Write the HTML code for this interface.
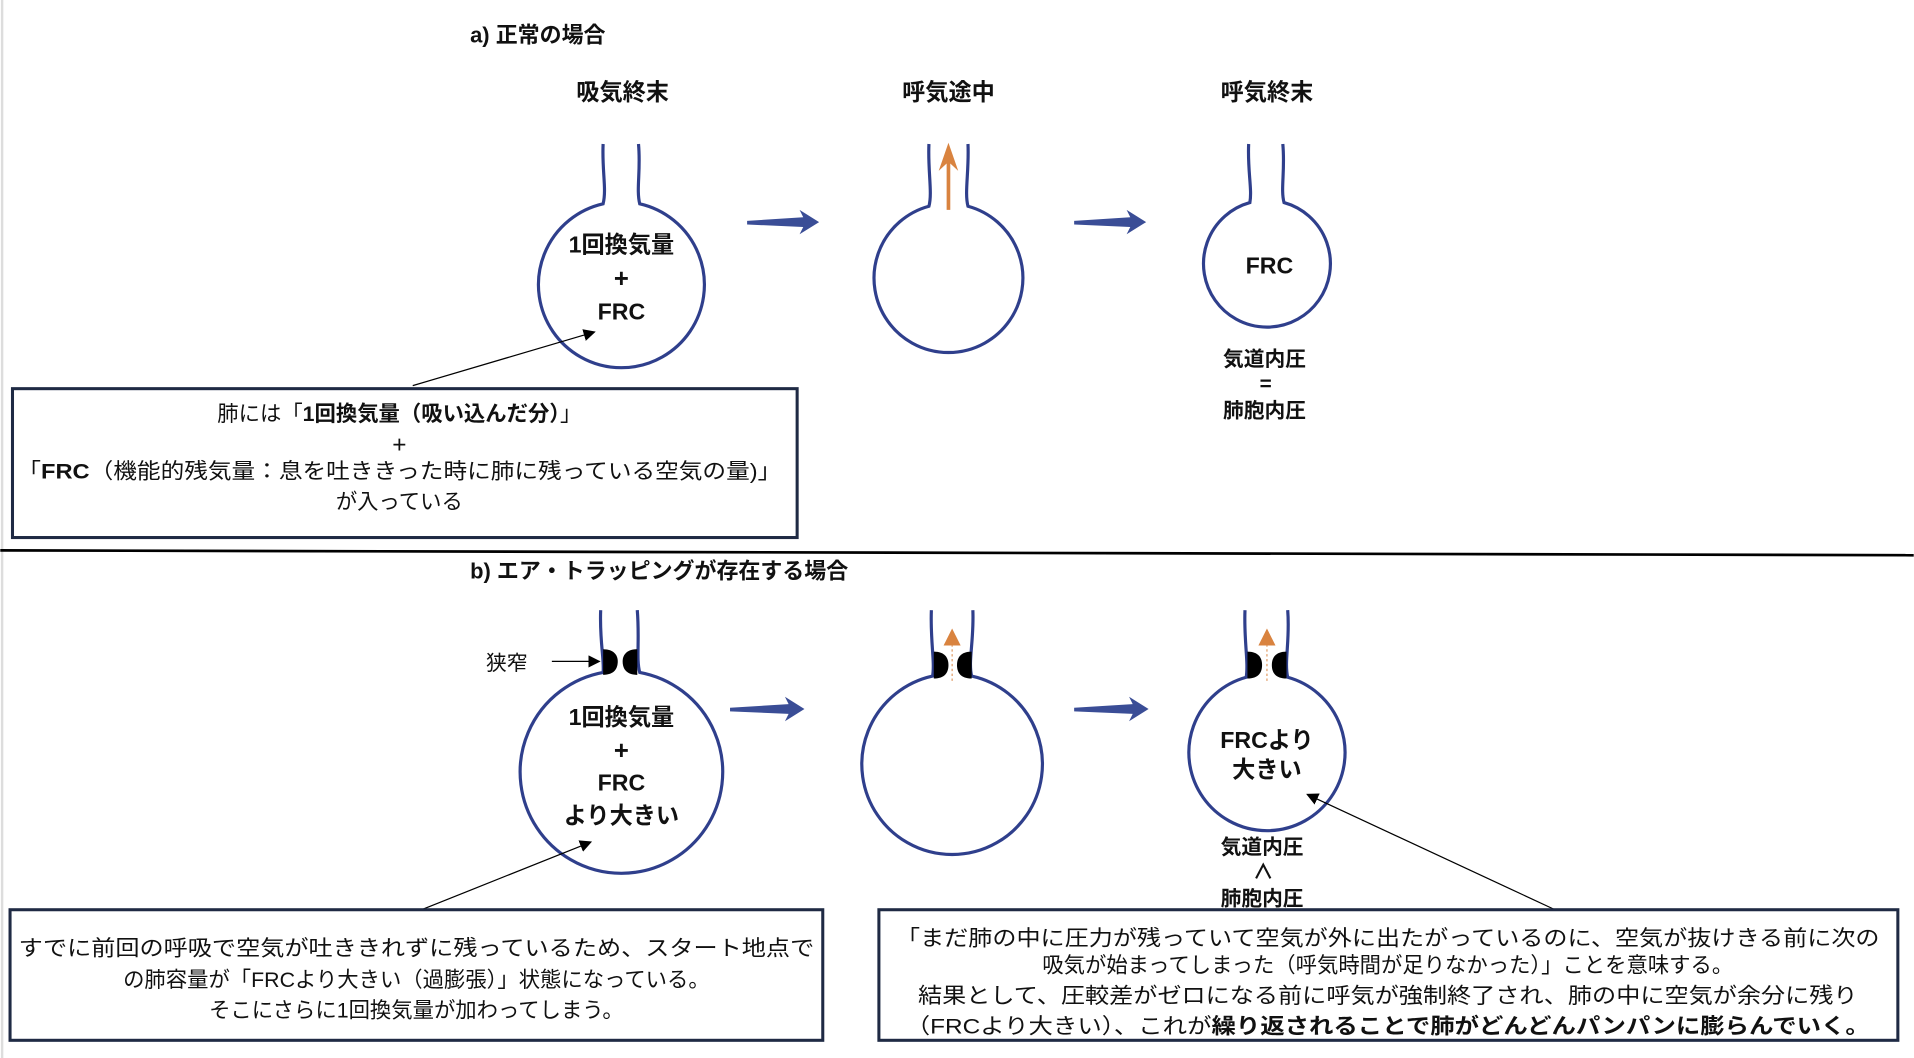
<!DOCTYPE html>
<html><head><meta charset="utf-8">
<style>
html,body{margin:0;padding:0;background:#fff;}
svg{display:block;}
text{font-family:"Liberation Sans","Noto Sans CJK JP",sans-serif;fill:#111;}
.b{font-weight:bold;}
.h{font-weight:600;}
</style></head>
<body>
<svg width="1914" height="1058" viewBox="0 0 1568 867" xmlns="http://www.w3.org/2000/svg">
<defs>
<marker id="ah" markerWidth="10" markerHeight="10" refX="9" refY="5" orient="auto" markerUnits="userSpaceOnUse">
<path d="M0,0 L10,5 L0,10 Z" fill="#000"/></marker>
</defs>
<line x1="1.5" y1="0" x2="1.5" y2="867" stroke="#ddd" stroke-width="2"/>

<!-- a -->
<text class="h" x="385" y="35" font-size="18">a)  正常の場合</text>
<text class="h" x="510" y="82" font-size="19" text-anchor="middle">吸気終末</text>
<text class="h" x="777" y="82" font-size="19" text-anchor="middle">呼気途中</text>
<text class="h" x="1038" y="82" font-size="19" text-anchor="middle">呼気終末</text>

<g fill="none" stroke="#2f3f8c" stroke-width="2.6">
<path d="M494,118 C493,140 497,155 494,167 A68,68 0 1 0 524,167 C521,155 525,140 523,118"/>
<path d="M761,118 C760,140 764,158 761,169 A61,61 0 1 0 793,169 C790,158 794,140 793,118"/>
<path d="M1023,118 C1022,140 1026,155 1024,166 A52,52 0 1 0 1052,166 C1049,155 1053,140 1051,118"/>
<path d="M492,500 C491,525 495,540 494,551 A83,83 0 1 0 524,551 C521,540 524,525 522,500"/>
<path d="M763,500 C762,525 766,542 764,554 A74,74 0 1 0 796,554 C793,542 798,525 797,500"/>
<path d="M1020,500 C1019,525 1023,542 1021,555 A64,64 0 1 0 1055,555 C1052,542 1057,525 1055,500"/>
</g>

<!-- blue arrows -->
<g fill="#3a4d96">
<path d="M612,181 L658,178 L655,172 L671,182 L655,192 L658,186 L612,184 Z"/>
<path d="M880,181 L926,178 L923,172 L939,182 L923,192 L926,186 L880,184 Z"/>
<path d="M598,580 L646,577 L643,571 L659,581 L643,591 L646,585 L598,583 Z"/>
<path d="M880,580 L928,577 L925,571 L941,581 L925,591 L928,585 L880,583 Z"/>
</g>

<!-- orange arrow a2 -->
<path d="M775.5,172 L775.5,134 L769,140 L777,117 L785,140 L778.5,134 L778.5,172 Z" fill="#d9833f"/>

<text class="b" x="509" y="207" font-size="19" text-anchor="middle">1回換気量</text>
<text class="b" x="509" y="235" font-size="21" text-anchor="middle">+</text>
<text class="b" x="509" y="262" font-size="19" text-anchor="middle">FRC</text>
<text class="b" x="1040" y="224" font-size="19" text-anchor="middle">FRC</text>
<text class="b" x="1036" y="300" font-size="17" text-anchor="middle">気道内圧</text>
<text class="b" x="1037" y="320" font-size="17" text-anchor="middle">=</text>
<text class="b" x="1036" y="342" font-size="17" text-anchor="middle">肺胞内圧</text>

<line x1="338" y1="316" x2="487" y2="272" stroke="#000" stroke-width="1" marker-end="url(#ah)"/>
<rect x="10" y="318.5" width="643" height="122" fill="none" stroke="#1f2a44" stroke-width="2.5"/>
<text x="327" y="345" font-size="17.5" text-anchor="middle">肺には「<tspan class="b">1回換気量（吸い込んだ分）</tspan>」</text>
<text x="327" y="371" font-size="20" text-anchor="middle">+</text>
<text x="327" y="392" font-size="17.5" text-anchor="middle" textLength="626" lengthAdjust="spacingAndGlyphs">「<tspan class="b">FRC</tspan>（機能的残気量：息を吐ききった時に肺に残っている空気の量)」</text>
<text x="327" y="417" font-size="17.5" text-anchor="middle">が入っている</text>

<line x1="0" y1="451" x2="1568" y2="455" stroke="#000" stroke-width="2.2"/>

<!-- b -->
<text class="h" x="385" y="474" font-size="18">b)  エア・トラッピングが存在する場合</text>

<!-- constrictions -->
<g fill="#000">
<path d="M494,532 C503,532 506,537 506,542 C506,548 503,553 494,553 Z"/>
<path d="M522,532 C513,532 510,537 510,542 C510,548 513,553 522,553 Z"/>
<path d="M765,534 C774,534 777,539 777,545 C777,551 774,556 765,556 Z"/>
<path d="M796,534 C787,534 784,539 784,545 C784,551 787,556 796,556 Z"/>
<path d="M1022,534 C1031,534 1034,539 1034,545 C1034,551 1031,556 1022,556 Z"/>
<path d="M1054,534 C1045,534 1042,539 1042,545 C1042,551 1045,556 1054,556 Z"/>
</g>
<g stroke="#d9833f" stroke-width="0.8" stroke-dasharray="2,2"><line x1="780" y1="528" x2="780" y2="558"/><line x1="1038" y1="528" x2="1038" y2="558"/></g>
<path d="M773,529 L780,515 L787,529 Z" fill="#d9833f"/>
<path d="M1031,529 L1038,515 L1045,529 Z" fill="#d9833f"/>

<text x="398" y="549" font-size="17">狭窄</text>
<line x1="452" y1="542" x2="491" y2="542" stroke="#000" stroke-width="1" marker-end="url(#ah)"/>

<text class="b" x="509" y="594" font-size="19" text-anchor="middle">1回換気量</text>
<text class="b" x="509" y="622" font-size="21" text-anchor="middle">+</text>
<text class="b" x="509" y="648" font-size="19" text-anchor="middle">FRC</text>
<text class="b" x="509" y="675" font-size="19" text-anchor="middle">より大きい</text>
<text class="b" x="1038" y="613" font-size="19" text-anchor="middle">FRCより</text>
<text class="b" x="1038" y="637" font-size="19" text-anchor="middle">大きい</text>
<text class="b" x="1034" y="700" font-size="17" text-anchor="middle">気道内圧</text>
<text class="b" x="1035" y="720" font-size="17" text-anchor="middle">∧</text>
<text class="b" x="1034" y="742" font-size="17" text-anchor="middle">肺胞内圧</text>

<line x1="344" y1="746" x2="484" y2="690" stroke="#000" stroke-width="1" marker-end="url(#ah)"/>
<line x1="1273" y1="745" x2="1071" y2="651" stroke="#000" stroke-width="1" marker-end="url(#ah)"/>

<rect x="8" y="745.5" width="666" height="107" fill="none" stroke="#1f2a44" stroke-width="2.5"/>
<text x="341" y="783" font-size="17.5" text-anchor="middle" textLength="652" lengthAdjust="spacingAndGlyphs">すでに前回の呼吸で空気が吐ききれずに残っているため、スタート地点で</text>
<text x="341" y="809" font-size="17.5" text-anchor="middle">の肺容量が「FRCより大きい（過膨張）」状態になっている。</text>
<text x="341" y="834" font-size="17.5" text-anchor="middle">そこにさらに1回換気量が加わってしまう。</text>

<rect x="720" y="745.5" width="835" height="107" fill="none" stroke="#1f2a44" stroke-width="2.5"/>
<text x="1137" y="775" font-size="17.5" text-anchor="middle" textLength="806" lengthAdjust="spacingAndGlyphs">「まだ肺の中に圧力が残っていて空気が外に出たがっているのに、空気が抜けきる前に次の</text>
<text x="1137" y="797" font-size="17.5" text-anchor="middle">吸気が始まってしまった（呼気時間が足りなかった）」ことを意味する。</text>
<text x="1137" y="822" font-size="17.5" text-anchor="middle" textLength="770" lengthAdjust="spacingAndGlyphs">結果として、圧較差がゼロになる前に呼気が強制終了され、肺の中に空気が余分に残り</text>
<text x="1137" y="847" font-size="17.5" text-anchor="middle" textLength="790" lengthAdjust="spacingAndGlyphs">（FRCより大きい）、これが<tspan class="b">繰り返されることで肺がどんどんパンパンに膨らんでいく。</tspan></text>
</svg>
</body></html>
